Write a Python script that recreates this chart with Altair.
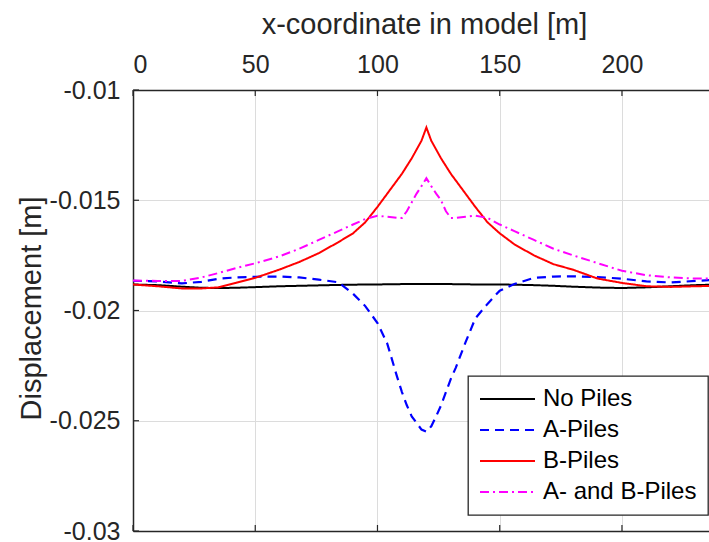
import altair as alt
import pandas as pd

# x-coordinate along the model [m]
x_m = [0, 10, 20, 28, 35, 42, 50, 60, 68, 76, 84, 90, 95, 100, 104, 108, 110, 112,
       114, 116, 118, 120, 122, 124, 126, 128, 130, 132, 136, 140, 145, 150, 156,
       164, 172, 180, 190, 200, 210, 220, 230, 240]

# vertical displacement [m] for each pile configuration
no_piles = [-0.01882, -0.01885, -0.01892, -0.01897, -0.01898, -0.01897, -0.01894,
            -0.01890, -0.01888, -0.01886, -0.01884, -0.01883, -0.01882, -0.01882,
            -0.01881, -0.01881, -0.01880, -0.01880, -0.01880, -0.01880, -0.01880,
            -0.01880, -0.01880, -0.01880, -0.01880, -0.01880, -0.01880, -0.01881,
            -0.01881, -0.01882, -0.01882, -0.01882, -0.01883, -0.01885, -0.01888,
            -0.01892, -0.01896, -0.01898, -0.01895, -0.01890, -0.01885, -0.01882]
a_piles = [-0.01865, -0.01868, -0.01877, -0.01870, -0.01856, -0.01850, -0.01847,
           -0.01846, -0.01850, -0.01860, -0.01872, -0.01924, -0.01980, -0.02057,
           -0.02150, -0.02300, -0.02370, -0.02430, -0.02480, -0.02510, -0.02540,
           -0.02550, -0.02525, -0.02480, -0.02430, -0.02370, -0.02310, -0.02260,
           -0.02145, -0.02036, -0.01970, -0.01910, -0.01880, -0.01852, -0.01846,
           -0.01845, -0.01848, -0.01856, -0.01868, -0.01873, -0.01866, -0.01860]
b_piles = [-0.01882, -0.01890, -0.01900, -0.01900, -0.01895, -0.01875, -0.01852,
           -0.01814, -0.01780, -0.01740, -0.01690, -0.01650, -0.01600, -0.01530,
           -0.01470, -0.01410, -0.01380, -0.01345, -0.01310, -0.01270, -0.01230,
           -0.01170, -0.01230, -0.01270, -0.01310, -0.01345, -0.01380, -0.01410,
           -0.01470, -0.01530, -0.01600, -0.01650, -0.01700, -0.01750, -0.01790,
           -0.01815, -0.01855, -0.01875, -0.01890, -0.01893, -0.01890, -0.01888]
ab_piles = [-0.01864, -0.01866, -0.01866, -0.01850, -0.01830, -0.01808, -0.01786,
            -0.01754, -0.01720, -0.01680, -0.01640, -0.01610, -0.01585, -0.01570,
            -0.01575, -0.01580, -0.01580, -0.01550, -0.01510, -0.01470, -0.01436,
            -0.01400, -0.01436, -0.01470, -0.01500, -0.01550, -0.01580, -0.01580,
            -0.01575, -0.01570, -0.01580, -0.01610, -0.01640, -0.01680, -0.01720,
            -0.01750, -0.01785, -0.01820, -0.01840, -0.01850, -0.01855, -0.01855]

series_names = ["No Piles", "A-Piles", "B-Piles", "A- and B-Piles"]
series_values = [no_piles, a_piles, b_piles, ab_piles]
series_colors = ["#000000", "#0000ff", "#ff0000", "#ff00ff"]
series_dashes = [[1, 0], [9, 6], [1, 0], [9, 4, 2, 4]]

x_ticks = [0, 50, 100, 150, 200]
y_ticks = [-0.03, -0.025, -0.02, -0.015, -0.01]

FONT = "Liberation Sans"
INK = "#262626"
GRID = "#dcdcdc"
W, H = 576, 441

rows = []
for name, vals in zip(series_names, series_values):
    for xv, yv in zip(x_m, vals):
        rows.append({"x": xv, "y": yv, "series": name})
df = pd.DataFrame(rows)

x_scale = alt.Scale(domain=[0, 235.6], nice=False, zero=False)
y_scale = alt.Scale(domain=[-0.03, -0.01], nice=False, zero=False)

top_axis = alt.Axis(
    orient="top", values=x_ticks, format="d", grid=True, gridColor=GRID,
    ticks=False, labelPadding=18, labelBaseline="alphabetic",
    labelFont=FONT, labelFontSize=25, labelColor=INK,
    domainColor=INK, domainWidth=1.5,
    title="x-coordinate in model [m]", titleFont=FONT, titleFontSize=29,
    titleFontWeight="normal", titleColor=INK, titleBaseline="alphabetic",
    titleX=291, titleY=-57,
)
left_axis = alt.Axis(
    orient="left", values=y_ticks, grid=True, gridColor=GRID, ticks=False,
    labelPadding=13, labelFont=FONT, labelFontSize=25, labelColor=INK,
    labelExpr="'-' + format(-datum.value, '.3~f')",
    domainColor=INK, domainWidth=1.5,
    title="Displacement [m]", titleFont=FONT, titleFontSize=29,
    titleFontWeight="normal", titleColor=INK, titleAngle=270,
    titleBaseline="alphabetic", titleAlign="center", titleX=-93, titleY=218,
)

# legend key: a horizontal stroke drawn from the left edge of the symbol box
legend = alt.Legend(
    title=None, orient="none", legendX=335, legendY=286,
    symbolType="M-1,0L4,0", symbolSize=484, symbolStrokeWidth=2,
    labelFont=FONT, labelFontSize=24, labelColor="#000000", labelOffset=40,
    rowPadding=7, padding=11, fillColor="#ffffff", strokeColor=INK,
)

color_enc = alt.Color("series:N",
                      scale=alt.Scale(domain=series_names, range=series_colors),
                      legend=legend)
dash_enc = alt.StrokeDash("series:N",
                          scale=alt.Scale(domain=series_names, range=series_dashes),
                          legend=legend)

layers = []
for i, name in enumerate(series_names):
    layers.append(
        alt.Chart(df)
        .transform_filter(alt.datum.series == name)
        .mark_line(clip=True, strokeWidth=2.2 if name == "A-Piles" else 2)
        .encode(
            x=alt.X("x:Q", scale=x_scale, axis=top_axis if i == 0 else None),
            y=alt.Y("y:Q", scale=y_scale, axis=left_axis),
            color=color_enc,
            strokeDash=dash_enc,
            detail="series:N",
        )
    )

xt = pd.DataFrame({"t": x_ticks})
yt = pd.DataFrame({"y": y_ticks})

# bottom frame line with inward ticks
bottom_ticks = alt.Chart(xt).mark_rule(color=INK, strokeWidth=1.2).encode(
    x=alt.X("t:Q", scale=x_scale,
            axis=alt.Axis(orient="bottom", labels=False, ticks=False, grid=False,
                          title="", domainColor=INK, domainWidth=1.5)),
    y=alt.value(H), y2=alt.value(H - 6),
)
top_ticks = alt.Chart(xt).mark_rule(color=INK, strokeWidth=1.2).encode(
    x=alt.X("t:Q", scale=x_scale, axis=None),
    y=alt.value(0), y2=alt.value(6),
)
left_ticks = alt.Chart(yt).mark_rule(color=INK, strokeWidth=1.2).encode(
    y=alt.Y("y:Q", scale=y_scale, axis=left_axis),
    x=alt.value(0), x2=alt.value(6),
)

chart = (
    alt.layer(*layers, bottom_ticks, top_ticks, left_ticks)
    .resolve_axis(x="independent")
    .properties(
        width=W, height=H,
        autosize=alt.AutoSizeParams(type="none"),
        padding={"left": 133, "top": 90, "right": 0, "bottom": 11},
        background="#ffffff",
    )
    .configure_view(strokeWidth=0)
    .configure_legend(strokeWidth=1.3)
)

chart.save("out.html", embed_options={"renderer": "svg", "actions": False})
